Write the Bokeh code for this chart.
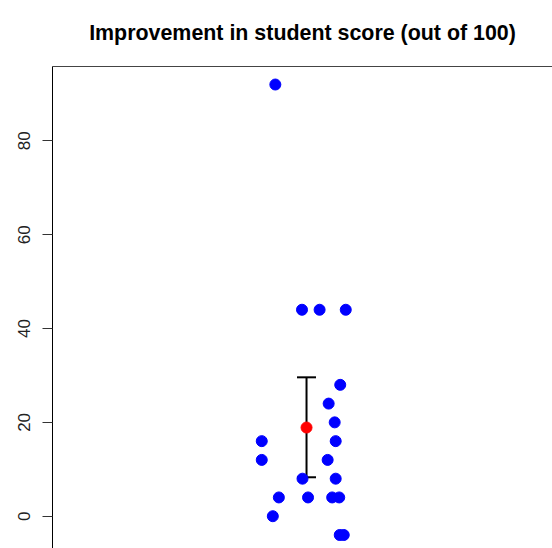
from bokeh.plotting import figure
from bokeh.models import Range1d, LinearAxis, FixedTicker, Whisker, ColumnDataSource, TeeHead
from bokeh.embed import file_html
from bokeh.resources import INLINE

# Data
scores = [92, 44, 44, 44, 28, 24, 20, 16, 16, 12, 12, 8, 8, 4, 4, 4, 4, 0, -4, -4]
jitter_x = [0.943, 0.996, 1.031, 1.083, 1.072, 1.049, 1.061, 0.916, 1.063, 0.916,
            1.047, 0.997, 1.063, 0.950, 1.008, 1.056, 1.070, 0.938, 1.071, 1.079]
mean_x = [1.005]
mean_y = [18.9]
ci_lower = [8.3]
ci_upper = [29.6]
y_ticks = [0, 20, 40, 60, 80]
title_text = "Improvement in student score (out of 100)"

p = figure(width=552, height=548, output_backend="svg", toolbar_location=None,
           x_range=Range1d(0.5, 1.494), y_range=Range1d(-6.88, 95.84),
           x_axis_location=None, title=title_text,
           min_border_left=52, min_border_right=0, min_border_bottom=0, min_border_top=66)
p.grid.visible = False
p.outline_line_color = None
p.background_fill_color = "white"
p.border_fill_color = "white"

p.title.text_font = "Liberation Sans"
p.title.text_font_size = "21.4px"
p.title.text_font_style = "bold"
p.title.align = "center"
p.title.vertical_align = "top"
p.title.text_color = "black"
p.title.standoff = 40

ya = p.yaxis[0]
ya.ticker = FixedTicker(ticks=y_ticks)
ya.major_label_orientation = "vertical"
ya.major_tick_out = 10
ya.major_tick_in = 0
ya.minor_tick_out = 0
ya.minor_tick_in = 0
ya.axis_line_color = "black"
ya.major_tick_line_color = "#333333"
ya.major_label_text_font = "Liberation Sans"
ya.major_label_text_font_size = "17px"
ya.major_label_text_color = "#222222"
ya.major_label_standoff = 12

top_axis = LinearAxis(ticker=FixedTicker(ticks=[]), major_tick_out=0, major_tick_in=0,
                      minor_tick_out=0, minor_tick_in=0, major_label_text_font_size="0px",
                      axis_line_color="#444444")
p.add_layout(top_axis, "above")

src = ColumnDataSource(dict(x=jitter_x, y=scores))
p.scatter("x", "y", source=src, size=11, fill_color="blue", line_color="blue")

ci_src = ColumnDataSource(dict(base=mean_x, lower=ci_lower, upper=ci_upper))
w = Whisker(source=ci_src, base="base", lower="lower", upper="upper", dimension="height",
            line_color="black", line_width=2,
            upper_head=TeeHead(size=19, line_color="black", line_width=2),
            lower_head=TeeHead(size=19, line_color="black", line_width=2))
p.add_layout(w)

p.scatter(mean_x, mean_y, size=11, fill_color="red", line_color="red")

open("out.html", "w").write(file_html(p, INLINE))
